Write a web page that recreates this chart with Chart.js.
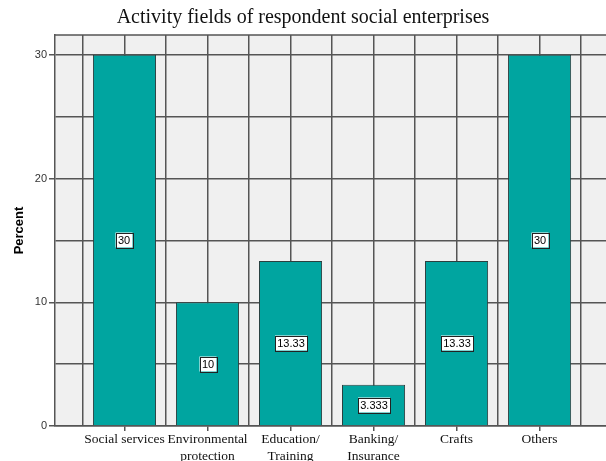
<!DOCTYPE html>
<html lang="en">
<head>
    <meta charset="UTF-8">
    <title>Activity fields of respondent social enterprises</title>
    <script src="https://cdn.jsdelivr.net/npm/chart.js"></script>
    <style>
        html, body { margin: 0; padding: 0; background: #fff; overflow: hidden; }
        #wrap { width: 606px; height: 461px; }
    </style>
</head>
<body>
    <div id="wrap"><canvas id="grafico"></canvas></div>

    <script>
        // Datos del gráfico
        const categorias = [
            'Social services',
            ['Environmental', 'protection'],
            ['Education/', 'Training'],
            ['Banking/', 'Insurance'],
            'Crafts',
            'Others'
        ];
        const porcentajes = [30, 10, 13.33, 3.333, 13.33, 30];
        const etiquetas = ['30', '10', '13.33', '3.333', '13.33', '30'];
        const ticksY = [0, 5, 10, 15, 20, 25, 30];

        // Fondo gris y borde superior del área del gráfico
        const fondoPlugin = {
            id: 'fondo',
            beforeDraw(chart) {
                const { ctx, chartArea: a } = chart;
                ctx.save();
                ctx.fillStyle = '#f0f0f0';
                ctx.fillRect(a.left, a.top, a.right - a.left, a.bottom - a.top);
                ctx.restore();
            },
            afterDraw(chart) {
                const { ctx, chartArea: a } = chart;
                ctx.save();
                ctx.strokeStyle = '#555';
                ctx.lineWidth = 1.5;
                ctx.beginPath();
                ctx.moveTo(a.left, a.top);
                ctx.lineTo(a.right, a.top);
                ctx.stroke();
                ctx.restore();
            }
        };

        // Cajas de valor en el centro de cada barra
        const etiquetasPlugin = {
            id: 'etiquetas',
            afterDatasetsDraw(chart) {
                const { ctx } = chart;
                const meta = chart.getDatasetMeta(0);
                ctx.save();
                ctx.font = '11px "Liberation Sans", Arial, sans-serif';
                ctx.textAlign = 'center';
                ctx.textBaseline = 'middle';
                meta.data.forEach((barra, i) => {
                    const texto = etiquetas[i];
                    const cx = Math.round(barra.x);
                    const cy = Math.round((barra.y + barra.base) / 2);
                    const w = Math.ceil(ctx.measureText(texto).width) + 4;
                    const h = 15;
                    ctx.fillStyle = '#fff';
                    ctx.fillRect(cx - w / 2, cy - h / 2, w, h);
                    ctx.strokeStyle = '#222';
                    ctx.lineWidth = 1;
                    ctx.strokeRect(Math.round(cx - w / 2) + 0.5, Math.round(cy - h / 2) + 0.5, w, h);
                    ctx.fillStyle = '#000';
                    ctx.fillText(texto, cx, cy + 1);
                });
                ctx.restore();
            }
        };

        const ctx = document.getElementById('grafico').getContext('2d');
        new Chart(ctx, {
            type: 'bar',
            data: {
                datasets: [{
                    data: porcentajes.map((v, i) => ({ x: i, y: v })),
                    backgroundColor: '#00a5a0',
                    borderColor: '#2b3f3f',
                    borderWidth: 1,
                    categoryPercentage: 1,
                    barPercentage: 1.52
                }]
            },
            options: {
                responsive: true,
                maintainAspectRatio: false,
                animation: false,
                layout: { padding: { top: 0, right: 0, bottom: 0, left: 0 } },
                plugins: {
                    legend: { display: false },
                    tooltip: { enabled: false },
                    title: {
                        display: true,
                        text: 'Activity fields of respondent social enterprises',
                        color: '#111',
                        font: { family: '"Liberation Serif", serif', size: 20, weight: 'normal' },
                        padding: { top: 6, bottom: 5 }
                    }
                },
                scales: {
                    x: {
                        type: 'linear',
                        min: -0.837,
                        max: 5.8,
                        offset: false,
                        afterBuildTicks(scale) {
                            const t = [];
                            for (let v = -0.5; v <= 5.5; v += 0.5) t.push({ value: v });
                            scale.ticks = t;
                        },
                        afterFit(scale) { scale.height = 35; },
                        grid: {
                            offset: false,
                            color: '#555',
                            lineWidth: 1.5,
                            tickLength: 5,
                            tickColor: (c) => Number.isInteger(c.tick && c.tick.value) ? '#555' : 'rgba(0,0,0,0)'
                        },
                        border: { color: '#555', width: 1.5 },
                        ticks: {
                            autoSkip: false,
                            maxRotation: 0,
                            padding: 0,
                            color: '#111',
                            font: { family: '"Liberation Serif", serif', size: 13.5, lineHeight: 1.25 },
                            callback: (v) => Number.isInteger(v) ? categorias[v] : ''
                        }
                    },
                    y: {
                        min: 0,
                        max: 31.6,
                        afterBuildTicks(scale) {
                            scale.ticks = ticksY.map(v => ({ value: v }));
                        },
                        afterFit(scale) { scale.width = 55; },
                        grid: {
                            color: '#555',
                            lineWidth: 1.5,
                            tickLength: 6,
                            tickColor: (c) => (c.tick && c.tick.value % 10 === 0) ? '#555' : 'rgba(0,0,0,0)'
                        },
                        border: { color: '#555', width: 1.5 },
                        ticks: {
                            padding: 2,
                            color: '#333',
                            font: { family: '"Liberation Sans", Arial, sans-serif', size: 11 },
                            callback: (v) => v % 10 === 0 ? v : ''
                        },
                        title: {
                            display: true,
                            text: 'Percent',
                            color: '#000',
                            font: { family: '"Liberation Sans", Arial, sans-serif', size: 13, weight: 'bold' },
                            padding: { top: 12, bottom: 0 }
                        }
                    }
                }
            },
            plugins: [fondoPlugin, etiquetasPlugin]
        });
    </script>
</body>
</html>
